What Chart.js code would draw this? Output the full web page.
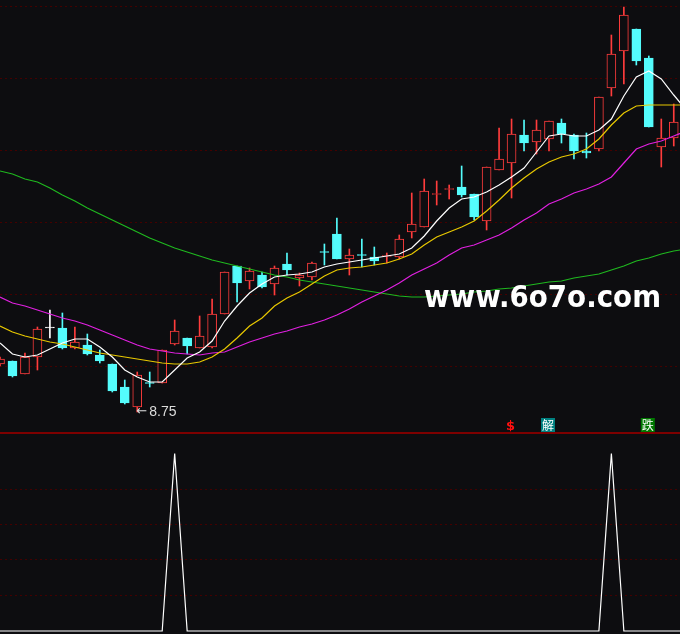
<!DOCTYPE html>
<html>
<head>
<meta charset="utf-8">
<script src="https://cdn.jsdelivr.net/npm/chart.js@4"></script>
<style>
  html, body { margin: 0; padding: 0; background: #0d0d10; overflow: hidden; }
  canvas { display: block; }
</style>
</head>
<body>
<canvas id="priceChart" width="680" height="434"></canvas>
<canvas id="signalChart" width="680" height="200"></canvas>
<script>
// daily candles, oldest first
const opens = [9.71, 9.77, 9.51, 9.85, 10.43, 10.43, 10.03, 10.09, 9.89, 9.71,
  9.25, 8.85, 9.34, 9.33, 10.11, 10.23, 10.03, 10.05, 10.71, 11.67,
  11.37, 11.49, 11.31, 11.71, 11.43, 11.45, 11.96, 12.31, 11.81, 11.90,
  11.85, 11.86, 11.85, 12.35, 12.45, 13.10, 13.20, 13.25, 13.11, 12.57,
  13.59, 13.73, 14.29, 14.15, 14.21, 14.53, 14.29, 13.97, 14.01, 15.23,
  15.97, 16.41, 15.83, 14.05, 14.23];
const highs = [9.85, 9.77, 9.93, 10.45, 10.79, 10.73, 10.45, 10.31, 9.99, 9.71,
  9.39, 9.55, 9.55, 9.99, 10.59, 10.23, 10.67, 11.01, 11.55, 11.67,
  11.63, 11.55, 11.67, 11.93, 11.53, 11.75, 12.11, 12.63, 12.01, 12.21,
  12.05, 11.93, 12.29, 13.13, 13.41, 13.37, 13.29, 13.67, 13.11, 13.65,
  14.43, 14.61, 14.59, 14.59, 14.57, 14.61, 14.31, 14.33, 15.05, 16.29,
  16.85, 16.41, 15.87, 14.61, 14.91];
const lows = [9.67, 9.45, 9.51, 9.59, 10.23, 10.01, 10.01, 9.89, 9.73, 9.15,
  8.91, 8.75, 9.25, 9.33, 10.09, 9.91, 10.03, 10.03, 10.71, 10.95,
  11.21, 11.23, 11.09, 11.49, 11.27, 11.39, 11.69, 11.81, 11.49, 11.65,
  11.69, 11.73, 11.81, 12.23, 12.45, 12.89, 13.01, 13.05, 12.59, 12.39,
  13.59, 13.03, 13.97, 13.91, 13.97, 14.13, 13.81, 13.83, 13.97, 15.07,
  15.31, 15.69, 14.45, 13.65, 14.07];
const closes = [9.81, 9.47, 9.85, 10.41, 10.43, 10.03, 10.15, 9.91, 9.77, 9.17,
  8.93, 9.49, 9.32, 9.99, 10.37, 10.07, 10.27, 10.71, 11.55, 11.33,
  11.57, 11.25, 11.63, 11.59, 11.49, 11.73, 11.94, 11.81, 11.89, 11.88,
  11.77, 11.88, 12.21, 12.51, 13.17, 13.12, 13.22, 13.09, 12.65, 13.65,
  13.81, 14.31, 14.13, 14.39, 14.57, 14.31, 13.97, 13.93, 15.05, 15.91,
  16.69, 15.77, 14.45, 14.23, 14.55];

// moving averages (one extra value: the day just past the right edge)
const ma5 = [10.13, 9.91, 9.85, 9.89, 10.01, 10.13, 10.21, 10.21, 10.05, 9.85,
  9.59, 9.45, 9.35, 9.35, 9.59, 9.83, 9.95, 10.17, 10.57, 10.87,
  11.13, 11.31, 11.45, 11.49, 11.51, 11.55, 11.65, 11.71, 11.75, 11.79,
  11.83, 11.87, 11.91, 12.03, 12.27, 12.57, 12.83, 13.01, 13.05, 13.15,
  13.29, 13.45, 13.63, 13.95, 14.27, 14.31, 14.27, 14.27, 14.39, 14.61,
  15.07, 15.45, 15.57, 15.41, 15.09, 14.79];
const ma10 = [10.47, 10.35, 10.27, 10.21, 10.15, 10.11, 10.05, 9.99, 9.93, 9.89,
  9.85, 9.81, 9.77, 9.73, 9.71, 9.71, 9.75, 9.85, 10.01, 10.23,
  10.47, 10.63, 10.87, 11.03, 11.15, 11.31, 11.47, 11.59, 11.63, 11.65,
  11.69, 11.73, 11.81, 11.91, 12.09, 12.25, 12.35, 12.45, 12.57, 12.77,
  12.99, 13.23, 13.43, 13.61, 13.75, 13.85, 13.91, 14.01, 14.21, 14.49,
  14.73, 14.87, 14.89, 14.89, 14.89, 14.89];
const ma20 = [11.05, 10.93, 10.87, 10.79, 10.71, 10.63, 10.57, 10.49, 10.39, 10.29,
  10.19, 10.09, 10.01, 9.97, 9.93, 9.91, 9.89, 9.93, 9.95, 10.05,
  10.15, 10.23, 10.31, 10.37, 10.45, 10.51, 10.59, 10.69, 10.81, 10.95,
  11.07, 11.19, 11.33, 11.49, 11.61, 11.73, 11.89, 12.03, 12.09, 12.19,
  12.29, 12.43, 12.59, 12.73, 12.91, 13.01, 13.13, 13.21, 13.31, 13.45,
  13.73, 14.01, 14.11, 14.17, 14.27, 14.37];
const ma60 = [13.57, 13.51, 13.41, 13.35, 13.23, 13.09, 12.97, 12.83, 12.71, 12.59,
  12.47, 12.35, 12.23, 12.13, 12.03, 11.95, 11.87, 11.79, 11.73, 11.67,
  11.61, 11.55, 11.49, 11.45, 11.39, 11.35, 11.31, 11.27, 11.23, 11.19,
  11.15, 11.11, 11.07, 11.05, 11.05, 11.07, 11.09, 11.11, 11.15, 11.17,
  11.21, 11.23, 11.27, 11.31, 11.35, 11.37, 11.43, 11.47, 11.51, 11.59,
  11.67, 11.77, 11.83, 11.91, 11.97, 12.01];

// lower indicator
const signal = [0, 0, 0, 0, 0, 0, 0, 0, 0, 0,
  0, 0, 0, 0, 1, 0, 0, 0, 0, 0,
  0, 0, 0, 0, 0, 0, 0, 0, 0, 0,
  0, 0, 0, 0, 0, 0, 0, 0, 0, 0,
  0, 0, 0, 0, 0, 0, 0, 0, 0, 1,
  0, 0, 0, 0, 0, 0];

// markers under the candles (bar index)
const dollarDays = [41];
const jieDays = [44];
const dieDays = [52];

const priceGrid = [9.65, 11.09, 12.53, 13.97, 15.41, 16.85];
const signalGrid = [0.2, 0.4, 0.6, 0.8];

const BG = '#0d0d10';
const UP = '#ff3c3c';
const DOWN = '#54fcfc';
const GRID = '#440000';

function candleColor(i) {
  if (closes[i] > opens[i]) return UP;
  if (closes[i] < opens[i]) return DOWN;
  return '#ffffff';
}
const pts = arr => arr.map((v, i) => ({ x: i, y: v }));

function maLine(data, color) {
  return {
    type: 'line',
    data: pts(data),
    borderColor: color,
    borderWidth: 1.2,
    pointRadius: 0,
    tension: 0,
    order: 0
  };
}

const overlay = {
  id: 'overlay',
  afterDraw(chart) {
    const c = chart.ctx;
    const xs = chart.scales.x, ys = chart.scales.y;
    const bottom = chart.chartArea.bottom;
    c.save();

    // lowest low label
    let lo = 0;
    lows.forEach((v, i) => { if (v < lows[lo]) lo = i; });
    const lx = xs.getPixelForValue(lo), ly = ys.getPixelForValue(lows[lo]);
    c.fillStyle = '#dcdcdc';
    c.textBaseline = 'middle';
    c.textAlign = 'left';
    c.font = '13px "DejaVu Sans", sans-serif';
    c.fillText('\u2190', lx - 1, ly);
    c.font = '14px "Liberation Sans", Arial, sans-serif';
    c.fillText(lows[lo].toFixed(2), lx + 12, ly);

    // watermark
    c.fillStyle = '#ffffff';
    c.font = 'bold 31px "DejaVu Sans", sans-serif';
    c.textBaseline = 'alphabetic';
    c.fillText('www.6o7o.com', 424, 307, 237);

    // signal markers
    c.textAlign = 'center';
    c.textBaseline = 'middle';
    dollarDays.forEach(i => {
      c.fillStyle = '#ff1010';
      c.font = 'bold 13px "DejaVu Sans", sans-serif';
      c.fillText('$', xs.getPixelForValue(i) - 1, bottom - 7);
    });
    const box = (i, bg, ch) => {
      const x = xs.getPixelForValue(i) - 1;
      c.fillStyle = bg;
      c.fillRect(x - 7, bottom - 16, 14, 14);
      c.fillStyle = '#ffffff';
      c.font = '12px "Noto Sans CJK SC", sans-serif';
      c.fillText(ch, x, bottom - 9);
    };
    jieDays.forEach(i => box(i, '#008080', '解'));
    dieDays.forEach(i => box(i, '#007800', '跌'));

    // panel separator
    c.fillStyle = '#7d0000';
    c.fillRect(0, chart.height - 2, chart.width, 2);
    c.restore();
  }
};

const xAxis = { type: 'linear', display: false, min: 0, max: 54.5, offset: false };

new Chart(document.getElementById('priceChart'), {
  type: 'bar',
  data: {
    datasets: [
      maLine(ma5, '#ffffff'),
      maLine(ma10, '#e8c800'),
      maLine(ma20, '#e020e0'),
      maLine(ma60, '#1fb81f'),
      {
        data: opens.map((o, i) => ({ x: i, y: [o, closes[i]] })),
        barThickness: 9,
        minBarLength: 1,
        grouped: false,
        borderSkipped: false,
        borderWidth: 1,
        borderColor: ctx => candleColor(ctx.dataIndex),
        backgroundColor: ctx => closes[ctx.dataIndex] > opens[ctx.dataIndex] ? BG : candleColor(ctx.dataIndex),
        order: 1
      },
      {
        data: lows.map((l, i) => ({ x: i, y: [l, highs[i]] })),
        barThickness: 1,
        grouped: false,
        borderWidth: 0,
        backgroundColor: ctx => candleColor(ctx.dataIndex),
        order: 2
      }
    ]
  },
  options: {
    responsive: false,
    animation: false,
    events: [],
    layout: { padding: 0 },
    plugins: { legend: { display: false }, tooltip: { enabled: false } },
    scales: {
      x: xAxis,
      y: {
        min: 16.99 - 434 * 0.02,
        max: 16.99,
        afterBuildTicks: s => { s.ticks = priceGrid.map(v => ({ value: v })); },
        ticks: { display: false, padding: 0 },
        grid: { color: GRID, lineWidth: 1, drawTicks: false },
        border: { display: false, dash: [2, 3] }
      }
    }
  },
  plugins: [overlay]
});

new Chart(document.getElementById('signalChart'), {
  type: 'line',
  data: {
    datasets: [{
      data: pts(signal),
      borderColor: '#ffffff',
      borderWidth: 1.2,
      pointRadius: 0,
      tension: 0
    }]
  },
  options: {
    responsive: false,
    animation: false,
    events: [],
    layout: { padding: 0 },
    plugins: { legend: { display: false }, tooltip: { enabled: false } },
    scales: {
      x: xAxis,
      y: {
        min: -0.017,
        max: 1.11,
        afterBuildTicks: s => { s.ticks = signalGrid.map(v => ({ value: v })); },
        ticks: { display: false, padding: 0 },
        grid: { color: GRID, lineWidth: 1, drawTicks: false },
        border: { display: false, dash: [2, 3] }
      }
    }
  }
});
</script>
</body>
</html>
